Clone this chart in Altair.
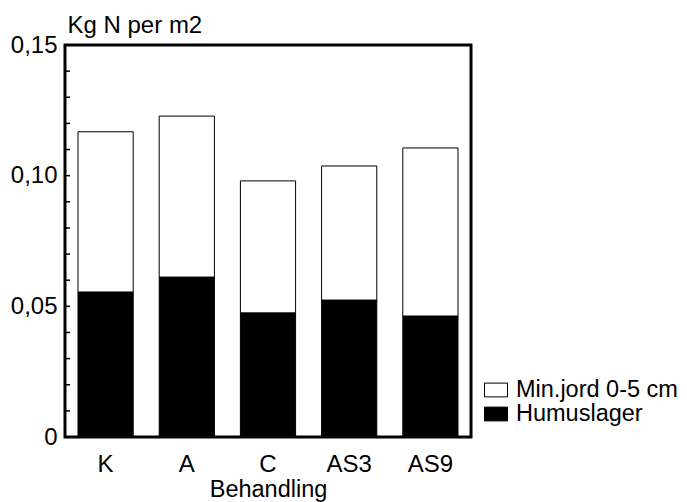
import altair as alt
import pandas as pd

categories = ["K", "A", "C", "AS3", "AS9"]
humuslager = [0.0555, 0.0612, 0.0475, 0.0524, 0.0463]
minjord = [0.0613, 0.0616, 0.0505, 0.0513, 0.0643]
series_names = ["Min.jord 0-5 cm", "Humuslager"]
y_ticks = [0, 0.05, 0.10, 0.15]
minor_ticks = [0.01, 0.02, 0.03, 0.04, 0.05, 0.06, 0.07, 0.08, 0.09, 0.10, 0.11, 0.12, 0.13, 0.14]

rows = []
for c, h, m in zip(categories, humuslager, minjord):
    rows.append({"cat": c, "serie": series_names[1], "val": h, "ord": 0})
    rows.append({"cat": c, "serie": series_names[0], "val": m, "ord": 1})
df = pd.DataFrame(rows)
ticks_df = pd.DataFrame({"v": minor_ticks})

FONT = "Liberation Sans"
FS = 24

yscale = alt.Scale(domain=[0, 0.15], nice=False)

bars = alt.Chart(df).mark_bar(stroke="black", strokeWidth=1).encode(
    x=alt.X("cat:N", sort=categories,
            scale=alt.Scale(paddingInner=0.32, paddingOuter=0.16),
            axis=alt.Axis(title="Behandling", labelAngle=0, ticks=False, domain=False,
                          labelPadding=15, titlePadding=1, titleFontSize=23.5)),
    y=alt.Y("val:Q", stack="zero", scale=yscale,
            axis=alt.Axis(values=y_ticks, ticks=False, domain=False, grid=False,
                          labelPadding=8,
                          labelExpr="datum.value == 0 ? '0' : replace(format(datum.value, '.2f'), '.', ',')",
                          title="Kg N per m2", titleAngle=0, titleAlign="left",
                          titleBaseline="alphabetic", titleX=2, titleY=-13)),
    fill=alt.Fill("serie:N", scale=alt.Scale(domain=series_names, range=["white", "black"]),
                  legend=alt.Legend(title=None, orient="none", legendX=419, legendY=333,
                                    symbolType="M-1,-0.6H1V0.6H-1Z", symbolSize=529,
                                    symbolStrokeColor="black", symbolStrokeWidth=1,
                                    labelOffset=8, rowPadding=0)),
    order=alt.Order("ord:Q"),
)

ticks = alt.Chart(ticks_df).mark_rule(color="black", strokeWidth=1.5).encode(
    y=alt.Y("v:Q", scale=yscale),
    x=alt.value(0),
    x2=alt.value(5),
)

chart = alt.layer(bars, ticks).properties(
    width=406, height=392,
    autosize=alt.AutoSizeParams(type="none"),
    padding={"left": 57, "top": 37, "right": 208, "bottom": 65},
).configure_view(
    stroke="black", strokeWidth=3
).configure_axis(
    labelFont=FONT, labelFontSize=FS, labelColor="black",
    titleFont=FONT, titleFontSize=FS, titleColor="black", titleFontWeight="normal",
).configure_legend(
    labelFont=FONT, labelFontSize=23.5, labelColor="black", labelLimit=300,
)

chart.save("out.html", embed_options={"renderer": "svg", "actions": False})
